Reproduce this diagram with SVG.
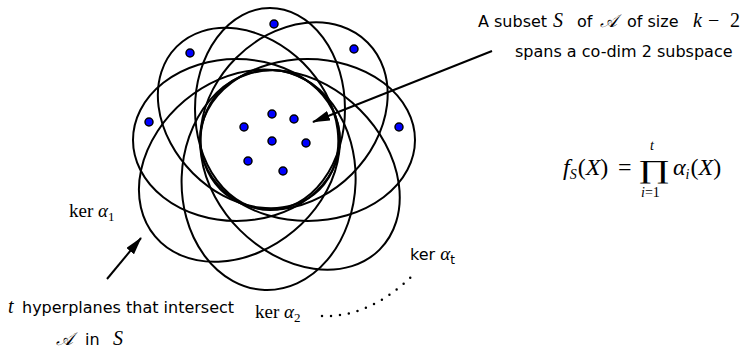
<svg xmlns="http://www.w3.org/2000/svg" width="747" height="349" viewBox="0 0 747 349">
<style>
.el{fill:none;stroke:#000;stroke-width:2}
.dot{fill:#0000ff;stroke:#000;stroke-width:1.5}
.sans{font-family:"DejaVu Sans",sans-serif;font-size:16px;fill:#000}
.ser{font-family:"Liberation Serif","DejaVu Serif",serif;fill:#000}
.it{font-style:italic}
.arr{stroke:#000;stroke-width:2;fill:none}
</style>
<defs>
<marker id="ah" markerUnits="userSpaceOnUse" markerWidth="18" markerHeight="10" refX="17" refY="5" orient="auto">
<path d="M0,0 L18,5 L0,10 z" fill="#000"/>
</marker>
</defs>
<rect width="747" height="349" fill="#fff"/>
<g id="hyperplanes">
<ellipse id="kerA" class="el" cx="301" cy="140" rx="101" ry="75" transform="rotate(-90 270 140)"/>
<ellipse id="kerC" class="el" cx="304" cy="140" rx="104" ry="82" transform="rotate(-45 270 140)"/>
<ellipse id="kerE" class="el" cx="307.5" cy="140" rx="107.5" ry="81"/>
<ellipse id="kerH" class="el" cx="312.5" cy="140" rx="112.5" ry="85" transform="rotate(45 270 140)"/>
<ellipse id="kerG" class="el" cx="310" cy="140" rx="110" ry="87" transform="rotate(92 270 140)"/>
<ellipse id="kerF" class="el" cx="310" cy="140" rx="110" ry="85" transform="rotate(140 270 140)"/>
<ellipse id="kerD" class="el" cx="303.5" cy="140" rx="103.5" ry="81" transform="rotate(180 270 140)"/>
<ellipse id="kerB" class="el" cx="301" cy="140" rx="101" ry="78" transform="rotate(-135 270 140)"/>
</g>
<g id="points">
<circle class="dot" cx="274" cy="24" r="4"/>
<circle class="dot" cx="190" cy="53" r="4"/>
<circle class="dot" cx="354" cy="49" r="4"/>
<circle class="dot" cx="149" cy="122" r="4"/>
<circle class="dot" cx="399" cy="127" r="4"/>
<circle class="dot" cx="272" cy="114" r="4"/>
<circle class="dot" cx="294" cy="119" r="4"/>
<circle class="dot" cx="244" cy="127" r="4"/>
<circle class="dot" cx="272" cy="141" r="4"/>
<circle class="dot" cx="306" cy="143" r="4"/>
<circle class="dot" cx="248" cy="161" r="4"/>
<circle class="dot" cx="283" cy="171" r="4"/>
</g>
<g id="connectors">
<line class="arr" x1="492" y1="51" x2="313" y2="122" marker-end="url(#ah)"/>
<line class="arr" x1="107" y1="279" x2="141" y2="238" marker-end="url(#ah)"/>
<path d="M322,316 Q370,318 414,274" fill="none" stroke="#000" stroke-width="2.5" stroke-linecap="round" stroke-dasharray="0 9"/>
</g>
<g id="label-subset">
<text class="sans" y="27"><tspan x="478">A subset</tspan><tspan x="553" class="ser it" font-size="20">S</tspan><tspan x="577">of</tspan><tspan x="600" class="ser it" font-size="18">𝒜</tspan><tspan x="627">of size</tspan><tspan x="693" class="ser it" font-size="20">k</tspan><tspan x="708" class="ser" font-size="20">−</tspan><tspan x="730" class="ser" font-size="20">2</tspan></text>
<text class="sans" x="515" y="57">spans a co-dim 2 subspace</text>
</g>
<g id="formula">
<text class="ser" font-size="24" y="175"><tspan x="563" class="it">f</tspan><tspan class="it" font-size="14" dy="4">S</tspan><tspan dy="-4" dx="1">(</tspan><tspan class="it">X</tspan><tspan>)</tspan><tspan x="618">=</tspan></text>
<text class="ser" font-size="26" transform="translate(638 178) scale(1.5 1)">∏</text>
<text class="ser it" font-size="14" x="650" y="150">t</text>
<text class="ser" font-size="14" x="641" y="197"><tspan class="it">i</tspan>=1</text>
<text class="ser" font-size="24" y="175"><tspan x="673" class="it">α</tspan><tspan class="it" font-size="14" dy="4">i</tspan><tspan dy="-4" dx="1">(</tspan><tspan class="it">X</tspan><tspan>)</tspan></text>
</g>
<g id="label-ker1">
<text class="ser" font-size="19" x="69" y="217">ker <tspan class="it">α</tspan><tspan font-size="13" dy="4">1</tspan></text>
</g>
<g id="label-ker2">
<text class="ser" font-size="19" x="255" y="318">ker <tspan class="it">α</tspan><tspan font-size="13" dy="4">2</tspan></text>
</g>
<g id="label-kert">
<text class="sans" x="410" y="260">ker <tspan class="ser it" font-size="19">α</tspan><tspan font-size="12" dy="4">t</tspan></text>
</g>
<g id="label-hyper">
<text class="sans" y="313"><tspan x="8" class="ser it" font-size="20">t</tspan><tspan x="22">hyperplanes that intersect</tspan></text>
<text class="sans" y="345"><tspan x="56" class="ser it" font-size="18">𝒜</tspan><tspan x="85">in</tspan><tspan x="113" class="ser it" font-size="20">S</tspan></text>
</g>
</svg>
